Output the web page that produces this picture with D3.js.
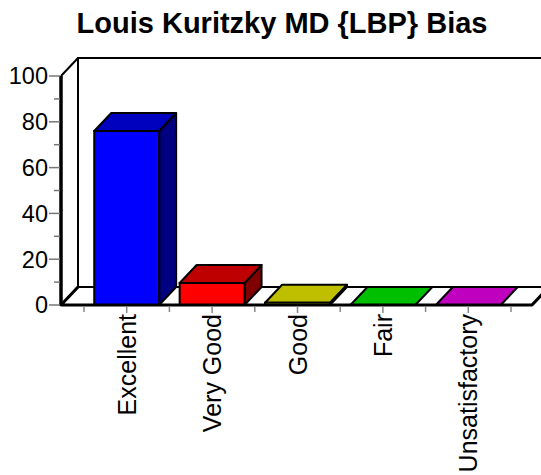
<!DOCTYPE html>
<html><head><meta charset="utf-8">
<script src="https://cdn.jsdelivr.net/npm/d3@7"></script>
<style>body{margin:0;background:#fff}svg{display:block}text{font-family:"Liberation Sans",Arial,sans-serif}</style>
</head><body><svg id="c" width="541" height="475"></svg>
<script>
const categories = ["Excellent","Very Good","Good","Fair","Unsatisfactory"];
const values = [76, 9.6, 1, 0, 0];
const barColors = ["#0000FF","#FF0000","#FFFF00","#00FF00","#FF00FF"];
const yTicks = [0,20,40,60,80,100];
const yMinor = [10,30,50,70,90];
const title = "Louis Kuritzky MD {LBP} Bias";

const svg = d3.select("#c");
const DX = 17, DY = -18;
const y = d3.scaleLinear().domain([0,100]).range([305,76]);
const x = d3.scaleBand().domain(categories).range([84,511]).paddingInner(0.24).paddingOuter(0.12);
const step = x.step();
const xLeft = 61, xRight = 532;

svg.append("text").attr("x",282).attr("y",33).attr("text-anchor","middle")
  .attr("font-size",29).attr("font-weight","bold").text(title);

// back wall lines
const y0 = y(0), yTop = y(100);
svg.append("path").attr("d",`M${xLeft+DX},${y0+DY}V${yTop+DY}H560`).attr("fill","none").attr("stroke","#000").attr("stroke-width",2);
svg.append("path").attr("d",`M${xLeft},${yTop}L${xLeft+DX},${yTop+DY}`).attr("fill","none").attr("stroke","#000").attr("stroke-width",2);

// floor
svg.append("path").attr("d",`M${xLeft},${y0}L${xRight},${y0}L${xRight+DX},${y0+DY}L${xLeft+DX},${y0+DY}Z`)
  .attr("fill","#fff").attr("stroke","#000").attr("stroke-width",2).attr("stroke-linejoin","round");

// bars
const shade = (c,k)=>{const r=d3.rgb(c);return d3.rgb(r.r*k,r.g*k,r.b*k).formatHex();};
const g = svg.append("g");
categories.forEach((cat,i)=>{
  const x0 = x(cat), x1 = x0 + x.bandwidth();
  const yt = y(values[i]);
  const c = barColors[i];
  if (values[i] > 0) {
    g.append("path").attr("d",`M${x1},${y0}L${x1+DX},${y0+DY}L${x1+DX},${yt+DY}L${x1},${yt}Z`)
      .attr("fill",shade(c,0.5)).attr("stroke","#000").attr("stroke-width",2).attr("stroke-linejoin","round");
  }
  g.append("path").attr("d",`M${x0},${yt}L${x1},${yt}L${x1+DX},${yt+DY}L${x0+DX},${yt+DY}Z`)
    .attr("fill",shade(c,0.75)).attr("stroke","#000").attr("stroke-width",2).attr("stroke-linejoin","round");
  if (values[i] > 0) {
    g.append("rect").attr("x",x0).attr("y",yt).attr("width",x1-x0).attr("height",y0-yt)
      .attr("fill",c).attr("stroke","#000").attr("stroke-width",2);
  }
});

// floor front edge & left floor diagonal
svg.append("path").attr("d",`M${xLeft+DX},${y0+DY}L${xLeft},${y0}H${xRight}L${xRight+DX},${y0+DY}`)
  .attr("fill","none").attr("stroke","#000").attr("stroke-width",3).attr("stroke-linejoin","round");

// y axis
svg.append("line").attr("x1",xLeft).attr("x2",xLeft).attr("y1",yTop).attr("y2",y0+1).attr("stroke","#000").attr("stroke-width",3.5);
svg.selectAll(".ymaj").data(yTicks).enter().append("line")
  .attr("x1",49).attr("x2",xLeft-1).attr("y1",d=>y(d)).attr("y2",d=>y(d)).attr("stroke","#777").attr("stroke-width",1.5);
svg.selectAll(".ymin").data(yMinor).enter().append("line")
  .attr("x1",54).attr("x2",xLeft-1).attr("y1",d=>y(d)).attr("y2",d=>y(d)).attr("stroke","#777").attr("stroke-width",1.5);
svg.selectAll(".ylab").data(yTicks).enter().append("text")
  .attr("x",48).attr("y",d=>y(d)).attr("dy","0.36em").attr("text-anchor","end").attr("font-size",23.5).text(d=>d);

// x ticks
const bounds = d3.range(categories.length+1).map(k=>x(categories[0]) - x.step()*x.paddingInner()/2 + k*step);
svg.selectAll(".xb").data(bounds).enter().append("line")
  .attr("x1",d=>d).attr("x2",d=>d).attr("y1",307).attr("y2",312).attr("stroke","#888").attr("stroke-width",1.5);
svg.selectAll(".xc").data(categories).enter().append("line")
  .attr("x1",d=>x(d)+x.bandwidth()/2).attr("x2",d=>x(d)+x.bandwidth()/2).attr("y1",307).attr("y2",313).attr("stroke","#888").attr("stroke-width",1.5);
svg.selectAll(".xlab").data(categories).enter().append("text")
  .attr("transform",d=>`translate(${x(d)+x.bandwidth()/2+9},314) rotate(-90)`)
  .attr("text-anchor","end").attr("font-size",25).text(d=>d);
</script></body></html>
